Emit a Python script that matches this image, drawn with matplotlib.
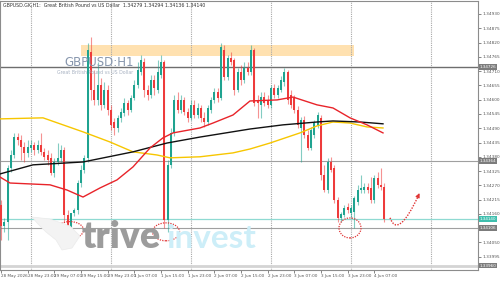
import numpy as np
import matplotlib
matplotlib.use("Agg")
import matplotlib.pyplot as plt
from matplotlib.patches import Ellipse, Rectangle, PathPatch, Polygon
from matplotlib.path import Path

# GBPUSD H1 candles, 28 May 15:00 -> 4 Jun 10:00 (weekend skipped)
opens = [1.34195, 1.34114, 1.34129, 1.34337, 1.34387, 1.34457, 1.34445, 1.34418, 1.34395, 1.34414,
         1.34426, 1.34407, 1.34426, 1.34399, 1.34387, 1.34376, 1.34318, 1.34360, 1.34376, 1.34407,
         1.34156, 1.34110, 1.34164, 1.34176, 1.34279, 1.34330, 1.34376, 1.34784, 1.34637, 1.34599,
         1.34657, 1.34580, 1.34637, 1.34560, 1.34514, 1.34491, 1.34530, 1.34549, 1.34587, 1.34560,
         1.34607, 1.34657, 1.34707, 1.34745, 1.34637, 1.34618, 1.34676, 1.34637, 1.34695, 1.34745,
         1.34137, 1.34349, 1.34472, 1.34599, 1.34560, 1.34599, 1.34553, 1.34530, 1.34580, 1.34541,
         1.34568, 1.34530, 1.34514, 1.34560, 1.34599, 1.34630, 1.34607, 1.34791, 1.34688, 1.34761,
         1.34753, 1.34637, 1.34707, 1.34676, 1.34722, 1.34707, 1.34791, 1.34599, 1.34580, 1.34611,
         1.34599, 1.34580, 1.34645, 1.34618, 1.34637, 1.34668, 1.34707, 1.34618, 1.34607, 1.34560,
         1.34491, 1.34522, 1.34464, 1.34414, 1.34464, 1.34503, 1.34530, 1.34310, 1.34253, 1.34360,
         1.34337, 1.34214, 1.34145, 1.34156, 1.34187, 1.34164, 1.34168, 1.34206, 1.34253, 1.34253,
         1.34264, 1.34260, 1.34214, 1.34299, 1.34272, 1.34264]
highs = [1.34214, 1.34145, 1.34349, 1.34407, 1.34472, 1.34472, 1.34464, 1.34437, 1.34445, 1.34445,
         1.34437, 1.34445, 1.34472, 1.34414, 1.34407, 1.34395, 1.34376, 1.34433, 1.34426, 1.34418,
         1.34176, 1.34129, 1.34183, 1.34291, 1.34349, 1.34387, 1.34818, 1.34842, 1.34714, 1.34745,
         1.34684, 1.34668, 1.34657, 1.34580, 1.34530, 1.34541, 1.34568, 1.34607, 1.34599, 1.34618,
         1.34676, 1.34745, 1.34772, 1.34761, 1.34657, 1.34695, 1.34695, 1.34753, 1.34772, 1.34753,
         1.34368, 1.34491, 1.34618, 1.34630, 1.34618, 1.34611, 1.34568, 1.34599, 1.34599, 1.34587,
         1.34580, 1.34553, 1.34580, 1.34611, 1.34645, 1.34645, 1.34818, 1.34811, 1.34772, 1.34784,
         1.34761, 1.34722, 1.34734, 1.34745, 1.34745, 1.34811, 1.34799, 1.34618, 1.34630, 1.34630,
         1.34618, 1.34657, 1.34661, 1.34657, 1.34691, 1.34722, 1.34714, 1.34637, 1.34618, 1.34576,
         1.34534, 1.34537, 1.34483, 1.34495, 1.34522, 1.34553, 1.34541, 1.34349, 1.34376, 1.34380,
         1.34349, 1.34226, 1.34168, 1.34195, 1.34202, 1.34195, 1.34229, 1.34272, 1.34310, 1.34279,
         1.34279, 1.34302, 1.34310, 1.34322, 1.34337, 1.34279]
lows = [1.34060, 1.34091, 1.34060, 1.34322, 1.34376, 1.34426, 1.34368, 1.34360, 1.34380, 1.34399,
        1.34387, 1.34395, 1.34387, 1.34368, 1.34349, 1.34310, 1.34302, 1.34349, 1.34360, 1.34129,
        1.34087, 1.34098, 1.34152, 1.34160, 1.34264, 1.34318, 1.34360, 1.34599, 1.34580, 1.34580,
        1.34560, 1.34568, 1.34541, 1.34483, 1.34464, 1.34476, 1.34514, 1.34537, 1.34541, 1.34553,
        1.34599, 1.34645, 1.34695, 1.34611, 1.34599, 1.34607, 1.34618, 1.34626, 1.34684, 1.34106,
        1.34091, 1.34337, 1.34460, 1.34549, 1.34549, 1.34541, 1.34514, 1.34522, 1.34530, 1.34530,
        1.34514, 1.34495, 1.34503, 1.34549, 1.34587, 1.34591, 1.34599, 1.34676, 1.34676, 1.34734,
        1.34618, 1.34630, 1.34657, 1.34664, 1.34695, 1.34695, 1.34576, 1.34530, 1.34530, 1.34576,
        1.34568, 1.34568, 1.34607, 1.34607, 1.34630, 1.34653, 1.34584, 1.34568, 1.34549, 1.34491,
        1.34360, 1.34453, 1.34407, 1.34407, 1.34453, 1.34491, 1.34291, 1.34245, 1.34241, 1.34322,
        1.34202, 1.34129, 1.34129, 1.34149, 1.34164, 1.34145, 1.34106, 1.34195, 1.34241, 1.34241,
        1.34241, 1.34202, 1.34202, 1.34260, 1.34253, 1.34129]
closes = [1.34114, 1.34129, 1.34337, 1.34387, 1.34457, 1.34445, 1.34418, 1.34395, 1.34418, 1.34426,
          1.34407, 1.34426, 1.34399, 1.34380, 1.34368, 1.34318, 1.34360, 1.34376, 1.34407, 1.34156,
          1.34110, 1.34164, 1.34176, 1.34279, 1.34330, 1.34376, 1.34791, 1.34637, 1.34599, 1.34657,
          1.34580, 1.34637, 1.34560, 1.34503, 1.34491, 1.34530, 1.34553, 1.34587, 1.34560, 1.34607,
          1.34657, 1.34714, 1.34753, 1.34637, 1.34618, 1.34676, 1.34645, 1.34707, 1.34745, 1.34137,
          1.34349, 1.34472, 1.34599, 1.34560, 1.34599, 1.34553, 1.34530, 1.34580, 1.34541, 1.34568,
          1.34530, 1.34514, 1.34568, 1.34599, 1.34630, 1.34607, 1.34803, 1.34688, 1.34761, 1.34745,
          1.34637, 1.34707, 1.34676, 1.34722, 1.34707, 1.34791, 1.34587, 1.34587, 1.34611, 1.34587,
          1.34580, 1.34645, 1.34618, 1.34645, 1.34676, 1.34707, 1.34599, 1.34580, 1.34560, 1.34503,
          1.34522, 1.34464, 1.34414, 1.34483, 1.34510, 1.34541, 1.34310, 1.34253, 1.34360, 1.34330,
          1.34214, 1.34145, 1.34160, 1.34183, 1.34176, 1.34183, 1.34222, 1.34253, 1.34260, 1.34264,
          1.34253, 1.34214, 1.34299, 1.34272, 1.34264, 1.34140]

# moving averages, read at a few bar positions
ma_fast_x = [-0.3, 2.7, 14.7, 19.8, 24.6, 29.7, 34.8, 39.6, 44.7, 48.6, 51.6, 59.7, 63.6, 69.6,
             74.7, 82.8, 87.6, 94.8, 99.6, 104.7, 109.8, 114.6]
ma_fast = [1.34302, 1.34279, 1.34272, 1.34252, 1.34225, 1.34260, 1.34291, 1.34341, 1.34414, 1.34453,
           1.34472, 1.34491, 1.34510, 1.34541, 1.34595, 1.34599, 1.34610, 1.34580, 1.34568, 1.34530,
           1.34503, 1.34472]
ma_mid_x = [-0.3, 12.6, 24.6, 32.7, 39.6, 46.8, 50.7, 59.7, 69.6, 74.7, 80.7, 89.7, 94.8, 99.6,
            104.7, 109.8, 114.6]
ma_mid = [1.34526, 1.34530, 1.34476, 1.34437, 1.34399, 1.34387, 1.34376, 1.34380, 1.34395, 1.34410,
          1.34433, 1.34472, 1.34499, 1.34514, 1.34510, 1.34495, 1.34491]
ma_slow_x = [-0.3, 9.6, 24.6, 39.6, 49.8, 59.7, 74.7, 84.6, 94.8, 99.6, 107.7, 114.6]
ma_slow = [1.34314, 1.34349, 1.34360, 1.34399, 1.34433, 1.34456, 1.34487, 1.34503, 1.34514, 1.34518,
           1.34514, 1.34507]

time_labels = ["28 May 2026", "28 May 23:00", "29 May 07:00", "29 May 15:00", "29 May 23:00",
               "1 Jun 07:00", "1 Jun 15:00", "1 Jun 23:00", "2 Jun 07:00", "2 Jun 15:00",
               "2 Jun 23:00", "3 Jun 07:00", "3 Jun 15:00", "3 Jun 23:00", "4 Jun 07:00"]
day_breaks = [9, 33, 57, 81, 105, 129]

levels = [1.34726, 1.34364, 1.34106, 1.33960]
last_price = 1.34140
zone = (24, 105.9, 1.34768, 1.34811)
price_ticks = [1.34930, 1.34875, 1.34820, 1.34765, 1.34710, 1.34655, 1.34600, 1.34545, 1.34490,
               1.34435, 1.34380, 1.34325, 1.34270, 1.34215, 1.34160, 1.34105, 1.34050, 1.33995]

bull = "#1fa390"
bear = "#ee3b3b"

fig = plt.figure(figsize=(5, 2.81), dpi=100)
ax = fig.add_axes([0, 11 / 281, 478 / 500, 269 / 281])
ax.set_xlim(-0.3, 143.1)
ax.set_ylim(1.33944, 1.34980)

# supply zone
ax.add_patch(Rectangle((zone[0], zone[2]), zone[1] - zone[0], zone[3] - zone[2],
                       facecolor="#ffe1b0", edgecolor="none", zorder=1))

# day separators
for d in day_breaks:
    ax.axvline(d, color="#a8a8a8", lw=0.8, ls=(0, (1, 1)), zorder=1)

# horizontal levels
ax.axhline(levels[0], color="#6e6e6e", lw=1.0, zorder=2)
ax.axhline(levels[1], color="#a0a0a0", lw=0.8, zorder=2)
ax.axhline(levels[2], color="#a0a0a0", lw=0.8, zorder=2)
ax.axhline(levels[3], color="#d4d4d4", lw=2.0, zorder=2)
ax.axhline(last_price, color="#8fdad2", lw=0.9, zorder=2)

# watermark text + logo
fig.text(64 / 500, 1 - 62 / 281, "GBPUSD:H1", fontsize=8.5, color="#8796ad", va="center", zorder=1)
fig.text(57 / 500, 1 - 73 / 281, "Great British Pound vs US Dollar", fontsize=3.4,
         color="#a8b2c2", va="center", zorder=1)
fig.text(82 / 500, 1 - 248 / 281, "trive", fontsize=27, fontweight="heavy", color="#9c9c9c",
         family="Lato", va="baseline", zorder=1)
fig.text(166 / 500, 1 - 248 / 281, "invest", fontsize=24, fontweight="bold", color="#cdeef8",
         family="Lato", va="baseline", zorder=1)
wing = [(32, 217), (50, 219), (70, 226), (80, 236), (72, 248), (62, 250), (56, 240), (46, 232), (38, 224)]
fig.patches.append(Polygon([(px / 500, 1 - py / 281) for px, py in wing], closed=True,
                           transform=fig.transFigure, facecolor="#f3f3f3", edgecolor="#ebebeb",
                           lw=0.5, zorder=0))

# candles
x = np.arange(len(opens))
o = np.array(opens)
c = np.array(closes)
colors = [bull if cc >= oo else bear for oo, cc in zip(o, c)]
ax.vlines(x, lows, highs, colors=colors, lw=0.8, alpha=0.55, zorder=3)
body = np.where(np.abs(c - o) < 0.00002, 0.00002, c - o)
ax.bar(x, body, bottom=o, width=0.62, color=colors, zorder=4, linewidth=0)

# moving averages
ax.plot(ma_mid_x, ma_mid, color="#f7c600", lw=1.0, zorder=5)
ax.plot(ma_slow_x, ma_slow, color="#111111", lw=1.0, zorder=5)
ax.plot(ma_fast_x, ma_fast, color="#e8242a", lw=1.0, zorder=5)

# circled lows
for cx, cy, w, h in [(20.7, 1.34098, 8.1, 0.00065), (49.5, 1.34091, 8.1, 0.00069),
                     (104.7, 1.34106, 6.6, 0.00077)]:
    ax.add_patch(Ellipse((cx, cy), w, h, fill=False, edgecolor="#e03535", lw=0.9,
                         ls=(0, (1, 1)), zorder=6))

# projected bounce arrow
arrow_path = Path([(116.7, 1.34145), (119.1, 1.34060), (125.4, 1.34235)],
                  [Path.MOVETO, Path.CURVE3, Path.CURVE3])
ax.add_patch(PathPatch(arrow_path, fill=False, edgecolor="#e03535", lw=1.0, ls=(0, (1, 1)), zorder=6))
ax.annotate("", xy=(125.9, 1.34250), xytext=(124.9, 1.34222),
            arrowprops=dict(arrowstyle="-|>", color="#e03535", lw=0.8, mutation_scale=6), zorder=6)

# axes look
ax.set_facecolor("none")
for s in ax.spines.values():
    s.set_color("#8c8c8c")
    s.set_linewidth(0.8)
ax.yaxis.tick_right()
shown = [t for t in price_ticks if min(abs(t - l) for l in levels + [last_price]) > 0.00006]
ax.set_yticks(shown)
ax.set_yticklabels([f"{t:.5f}" for t in shown])
ax.tick_params(axis="y", labelsize=3.1, length=2, width=0.5, colors="#555555", pad=1)
ax.set_xticks(range(0, 113, 8))
ax.set_xticklabels(time_labels, ha="left")
ax.tick_params(axis="x", labelsize=2.95, length=2, width=0.5, colors="#555555", pad=1)

# price boxes on the right scale
for lv in levels:
    ax.text(1.004, lv, f"{lv:.5f}", transform=ax.get_yaxis_transform(), fontsize=3.0,
            color="white", va="center", ha="left",
            bbox=dict(boxstyle="square,pad=0.15", facecolor="#7c7c7c", edgecolor="none"))
ax.text(1.004, last_price, f"{last_price:.5f}", transform=ax.get_yaxis_transform(), fontsize=3.0,
        color="white", va="center", ha="left",
        bbox=dict(boxstyle="square,pad=0.15", facecolor="#3fbfae", edgecolor="none"))

fig.text(3 / 500, 1 - 5 / 281,
         "GBPUSD.GK,H1:  Great British Pound vs US Dollar  1.34279 1.34294 1.34136 1.34140",
         fontsize=3.4, color="#333333", va="center")

fig.savefig("out.png", dpi=100)
